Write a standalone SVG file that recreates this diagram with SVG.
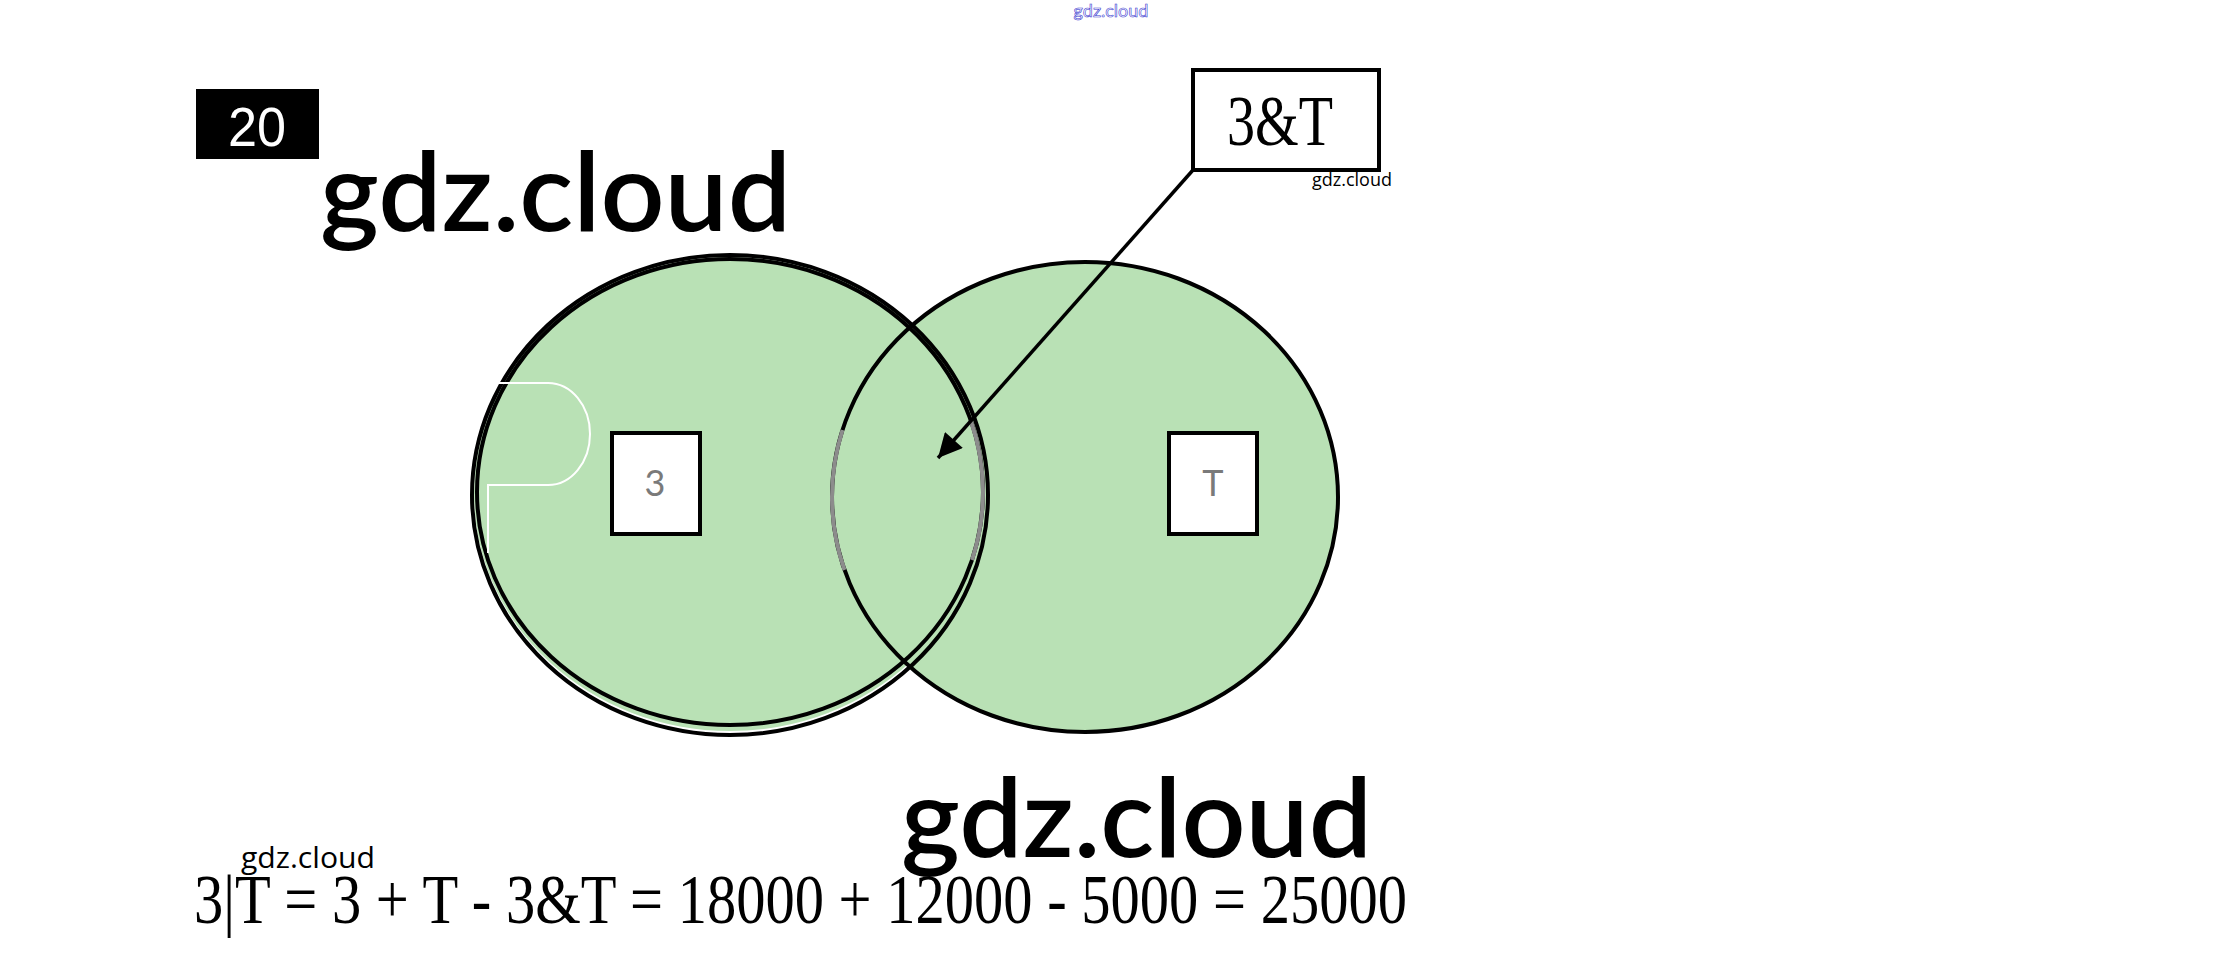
<svg xmlns="http://www.w3.org/2000/svg" width="2222" height="962" viewBox="0 0 2222 962">
<style>
.fill{fill:#b9e1b5;stroke:none}
.ring{fill:none;stroke:#000;stroke-width:4}
.ghost{fill:none;stroke:#8c8c8c;stroke-width:4}
.box{fill:#fff;stroke:#000;stroke-width:4}
.wm{font-family:"Lato","Open Sans",sans-serif;fill:#000}
.small{font-family:"Open Sans","Lato",sans-serif;fill:#000}
.serif{font-family:"Liberation Serif","Times New Roman",serif;fill:#000}
.lbl{font-family:"Lato","Open Sans",sans-serif;fill:#7a7a7a;font-size:36px;text-anchor:middle}
</style>
<defs>
<marker id="ah" viewBox="0 0 10 10" refX="10" refY="5" markerWidth="30" markerHeight="24" markerUnits="userSpaceOnUse" orient="auto">
<path d="M0,0 L10,5 L0,10 z" fill="#000"/>
</marker>
</defs>
<rect width="2222" height="962" fill="#fff"/>
<text x="1111" y="17" font-family="Lato,sans-serif" font-size="18" fill="#fff" stroke="#3a3ad0" stroke-width="0.6" text-anchor="middle">gdz.cloud</text>

<g id="set-3">
<ellipse class="fill" cx="730" cy="494" rx="256" ry="237"/>
</g>
<g id="set-T">
<ellipse class="fill" cx="1085" cy="497" rx="253" ry="235"/>
</g>
<g id="set-3-outline">
<ellipse class="ring" cx="730" cy="495" rx="258" ry="240"/>
<ellipse class="ring" cx="730" cy="492" rx="253" ry="233"/>
<path class="ghost" d="M970.6,420 A253,233 0 0 1 972,560"/>
<path d="M488,383 L548,383 A42,51 0 0 1 548,485 L488,485 L488,553" fill="none" stroke="#fff" stroke-width="2"/>
</g>
<g id="set-T-outline">
<ellipse class="ring" cx="1085" cy="497" rx="253" ry="235"/>
<path class="ghost" d="M842.5,430 A253,235 0 0 0 844.5,570"/>
</g>

<g id="box-3">
<rect class="box" x="612" y="433" width="88" height="101"/>
<text class="lbl" x="655" y="496">3</text>
</g>
<g id="box-T">
<rect class="box" x="1169" y="433" width="88" height="101"/>
<text class="lbl" x="1213" y="496">T</text>
</g>

<g id="label-20">
<rect x="196" y="89" width="123" height="70" fill="#000"/>
<text x="257" y="146" font-family="Liberation Sans Narrow,Liberation Sans,sans-serif" font-size="55" fill="#fff" text-anchor="middle" textLength="58" lengthAdjust="spacingAndGlyphs">20</text>
</g>

<g id="label-3andT">
<rect class="box" x="1193" y="70" width="186" height="100"/>
<text class="serif" x="1280" y="145" font-size="72" text-anchor="middle" textLength="106" lengthAdjust="spacingAndGlyphs">3&amp;T</text>
</g>

<g id="connectors">
<line x1="1193" y1="170" x2="938" y2="458" stroke="#000" stroke-width="3.5" marker-end="url(#ah)"/>
</g>

<text class="wm" x="320" y="231" font-size="110" font-weight="600" textLength="471" lengthAdjust="spacingAndGlyphs">gdz.cloud</text>
<text class="wm" x="901" y="857" font-size="110" font-weight="600" textLength="471" lengthAdjust="spacingAndGlyphs">gdz.cloud</text>
<text class="small" x="1312" y="186" font-size="18" textLength="80" lengthAdjust="spacingAndGlyphs">gdz.cloud</text>
<text class="small" x="241" y="868" font-size="30" textLength="134" lengthAdjust="spacingAndGlyphs">gdz.cloud</text>

<text class="serif" x="194" y="923" font-size="70" textLength="1213" lengthAdjust="spacingAndGlyphs">3|T = 3 + T - 3&amp;T = 18000 + 12000 - 5000 = 25000</text>
</svg>
